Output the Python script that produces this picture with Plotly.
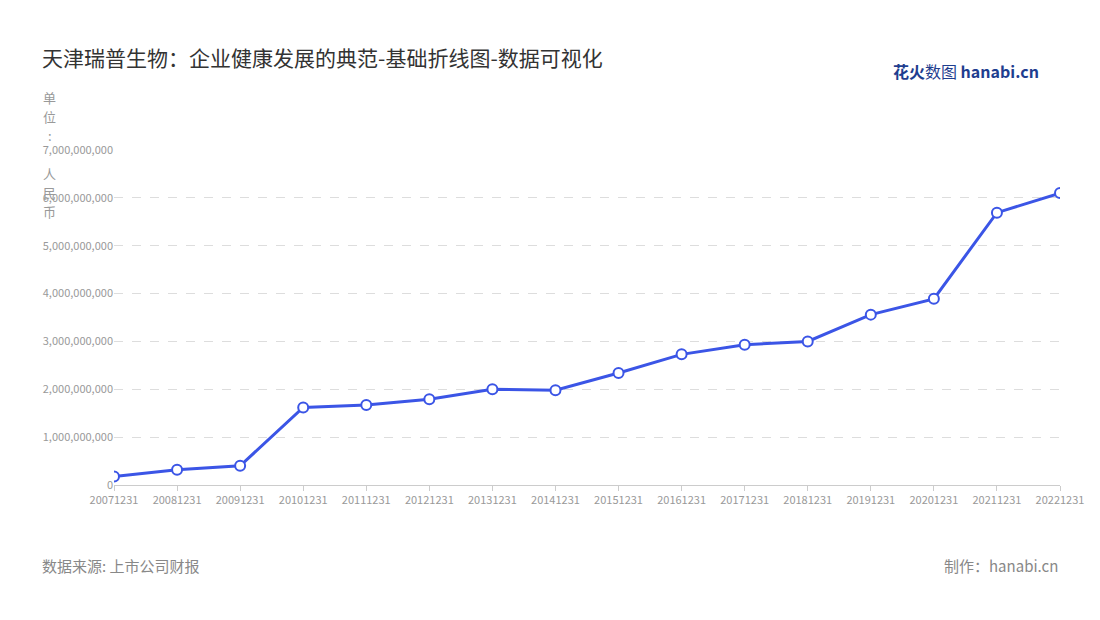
import plotly.graph_objects as go

# values
dates = ["20071231", "20081231", "20091231", "20101231", "20111231", "20121231",
         "20131231", "20141231", "20151231", "20161231", "20171231", "20181231",
         "20191231", "20201231", "20211231", "20221231"]
revenue = [180e6, 320e6, 400e6, 1620e6, 1670e6, 1790e6, 2000e6, 1980e6,
           2340e6, 2730e6, 2930e6, 3000e6, 3560e6, 3890e6, 5690e6, 6100e6]
y_ticks = [0, 1e9, 2e9, 3e9, 4e9, 5e9, 6e9, 7e9]
y_labels = ["0", "1,000,000,000", "2,000,000,000", "3,000,000,000", "4,000,000,000",
            "5,000,000,000", "6,000,000,000", "7,000,000,000"]
unit_chars = ["单", "位", ":", "", "人", "民", "币"]

font = "Noto Sans CJK SC, Noto Sans, sans-serif"
fig = go.Figure()
fig.add_trace(go.Scatter(
    x=dates, y=revenue, mode="lines+markers",
    line=dict(color="#3b55e6", width=3),
    marker=dict(size=10, color="white", line=dict(color="#3b55e6", width=2)),
))

fig.update_layout(
    width=1100, height=620,
    paper_bgcolor="white", plot_bgcolor="white",
    margin=dict(l=106, r=48, t=142, b=143),
    showlegend=False,
    font=dict(family=font, color="#999999", size=11),
    title=dict(text="天津瑞普生物：企业健康发展的典范-基础折线图-数据可视化",
               x=0.031, y=0.93, xanchor="left",
               font=dict(size=21, color="#333333", family=font)),
    xaxis=dict(type="category", showgrid=False, showline=True, linecolor="#cccccc",
               ticks="outside", tickcolor="#cccccc", ticklen=5,
               range=[0, len(dates) - 1], tickfont=dict(size=11, color="#999999")),
    yaxis=dict(range=[0, 7e9], tickvals=y_ticks, ticktext=y_labels,
               showgrid=True, gridcolor="#dddddd", griddash="dash",
               zeroline=False, showline=False, tickfont=dict(size=11, color="#999999")),
)

# vertical unit label, one character per line (~19px apart)
for i, ch in enumerate(unit_chars):
    if not ch:
        continue
    fig.add_annotation(text=ch, xref="paper", yref="paper",
                       x=-0.068, y=1.157 - i * 19 / 335, xanchor="center", yanchor="middle",
                       showarrow=False, font=dict(size=13, color="#999999"))
fig.add_annotation(text="数据来源: 上市公司财报", xref="paper", yref="paper",
                   x=-0.078, y=-0.24, xanchor="left", yanchor="middle", showarrow=False,
                   font=dict(size=15, color="#888888"))
fig.add_annotation(text="制作：hanabi.cn", xref="paper", yref="paper",
                   x=1.0, y=-0.24, xanchor="right", yanchor="middle", showarrow=False,
                   font=dict(size=15, color="#888888"))
fig.add_annotation(text="<b>花火</b>数图 <b>hanabi.cn</b>", xref="paper", yref="paper",
                   x=0.98, y=1.235, xanchor="right", yanchor="middle", showarrow=False,
                   font=dict(size=16, color="#1f3e8f"))

fig.write_html("out.html")
